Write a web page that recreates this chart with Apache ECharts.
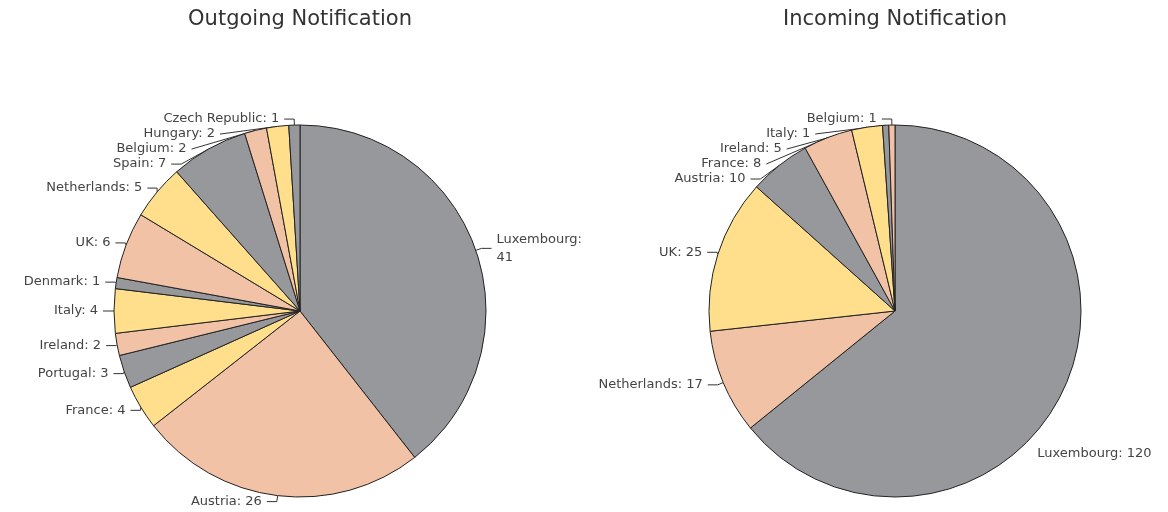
<!DOCTYPE html>
<html lang="en">
<head>
    <meta charset="UTF-8">
    <title>Notifications</title>
    <style>
        html, body { margin: 0; padding: 0; background: #fff; }
        #box { width: 1168px; height: 512px; }
    </style>
</head>
<body>
    <div id="box"></div>
    <script src="https://cdn.jsdelivr.net/npm/echarts@6/dist/echarts.min.js"></script>
    <script>
        // outgoing (left pie), clockwise from 12 o'clock
        var outNames = ['Luxembourg', 'Austria', 'France', 'Portugal', 'Ireland', 'Italy', 'Denmark',
            'UK', 'Netherlands', 'Spain', 'Belgium', 'Hungary', 'Czech Republic'];
        var outValues = [41, 26, 4, 3, 2, 4, 1, 6, 5, 7, 2, 2, 1];
        // incoming (right pie)
        var inNames = ['Luxembourg', 'Netherlands', 'UK', 'Austria', 'France', 'Ireland', 'Italy', 'Belgium'];
        var inValues = [120, 17, 25, 10, 8, 5, 1, 1];

        var colors = ['#97989c', '#f2c2a6', '#ffde8c'];
        var myChart = echarts.init(document.getElementById('box'));

        function toData(names, values) {
            var arr = [];
            names.forEach(function (n, i) {
                // slices cycle gray / peach / yellow
                arr.push({ name: n, value: values[i], itemStyle: { color: colors[i % 3] } });
            });
            return arr;
        }

        function pieSeries(names, values, cx) {
            return {
                type: 'pie',
                center: [cx, 311],
                radius: 186,
                startAngle: 90,
                clockwise: true,
                avoidLabelOverlap: true,
                minShowLabelAngle: 0,
                data: toData(names, values),
                itemStyle: { borderColor: '#222', borderWidth: 1 },
                label: {
                    formatter: '{b}: {c}',
                    color: '#444',
                    fontSize: 13,
                    fontFamily: 'DejaVu Sans',
                    overflow: 'none'
                },
                labelLine: {
                    length: 6,
                    length2: 10,
                    lineStyle: { color: '#333', width: 1 }
                },
                emphasis: { disabled: true }
            };
        }

        var leftPie = pieSeries(outNames, outValues, 300);
        // big slice label wraps onto two lines
        leftPie.data[0].label = { formatter: '{b}:\n{c}', lineHeight: 18 };

        var rightPie = pieSeries(inNames, inValues, 895);
        rightPie.data[0].labelLine = { show: false };
        rightPie.labelLayout = function (params) {
            if (params.dataIndex === 0) {
                return { dx: -46, dy: 60 };
            }
        };

        var titleStyle = { fontFamily: 'DejaVu Sans', fontSize: 21, fontWeight: 'normal', color: '#333' };
        var option = {
            animation: false,
            title: [
                { text: 'Outgoing Notification', left: 295, top: 4, textAlign: 'center', textStyle: titleStyle },
                { text: 'Incoming Notification', left: 890, top: 4, textAlign: 'center', textStyle: titleStyle }
            ],
            series: [leftPie, rightPie]
        };
        myChart.setOption(option);
    </script>
</body>
</html>
